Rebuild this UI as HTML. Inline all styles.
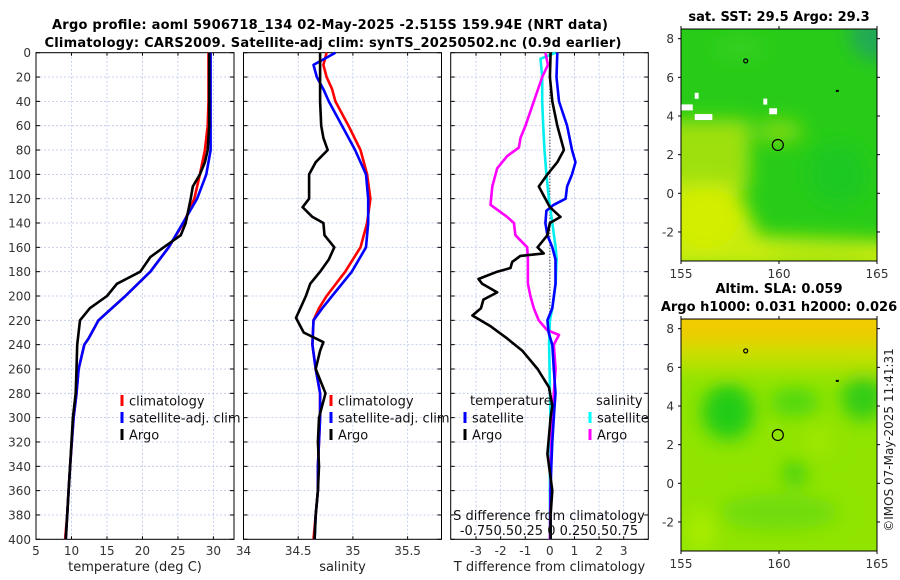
<!DOCTYPE html>
<html><head><meta charset="utf-8"><style>
html,body{margin:0;padding:0;background:#fff;}
svg{display:block;font-family:"DejaVu Sans","Liberation Sans",sans-serif;}
</style></head><body>
<svg id="fig" width="900" height="580" viewBox="0 0 900 580" xmlns="http://www.w3.org/2000/svg">
<text x="330" y="29" font-size="13" font-weight="bold" text-anchor="middle" textLength="556">Argo profile: aoml 5906718_134 02-May-2025 -2.515S 159.94E (NRT data)</text>
<text x="333" y="47" font-size="13" font-weight="bold" text-anchor="middle" textLength="577">Climatology: CARS2009. Satellite-adj clim: synTS_20250502.nc (0.9d earlier)</text>
<g id="maps"></g>
<g id="panels"></g>
<text transform="translate(893,440) rotate(-90)" font-size="12" text-anchor="middle" fill="#222">©IMOS 07-May-2025 11:41:31</text>
</svg>
<script>
// depths (m)
const depthsT = [0,20,40,60,80,90,100,110,120,140,150,160,168,180,190,200,210,220,235,240,260,280,300,320,340,360,380,400];
const tempArgo = [29.4,29.4,29.4,29.4,29.2,28.8,28.1,27.1,26.8,26.1,25.4,23.0,21.1,19.7,16.4,15.0,12.6,11.2,10.9,10.8,10.7,10.6,10.2,10.0,9.8,9.6,9.4,9.2];
const depthsC = [0,20,40,60,80,100,120,140,160,180,200,220,235,240,260,280,300,320,340,360,380,400];
const tempClim = [29.3,29.3,29.3,29.2,28.8,28.1,27.3,25.8,23.7,21.1,17.6,13.8,12.4,11.8,11.0,10.7,10.3,10.05,9.8,9.6,9.4,9.1];
const tempSat  = [29.6,29.6,29.6,29.6,29.6,29.0,27.7,25.7,23.7,21.1,17.6,13.8,12.4,11.8,11.0,10.7,10.3,10.05,9.8,9.6,9.4,9.2];
const depthsS = [0,10,20,30,40,60,80,100,120,140,160,180,200,210,220,240,260,280,300,320,340,360,380,400];
const salClim = [34.76,34.73,34.76,34.81,34.84,34.96,35.07,35.13,35.16,35.13,35.07,34.93,34.76,34.69,34.64,34.63,34.66,34.70,34.70,34.69,34.68,34.68,34.66,34.64];
const salSat  = [34.84,34.64,34.67,34.73,34.78,34.90,35.02,35.12,35.14,35.14,35.12,34.99,34.81,34.72,34.64,34.63,34.66,34.70,34.70,34.69,34.68,34.68,34.66,34.65];
const depthsSA = [0,20,40,60,70,80,90,100,120,127,135,140,150,160,170,180,190,200,210,218,230,238,245,260,280,300,320,340,360,380,400];
const salArgo = [34.70,34.70,34.70,34.71,34.73,34.77,34.66,34.60,34.60,34.54,34.63,34.73,34.74,34.83,34.78,34.70,34.61,34.57,34.52,34.48,34.55,34.73,34.70,34.66,34.75,34.69,34.68,34.69,34.68,34.66,34.65];
// difference panel
const depthsD = [0,20,40,60,80,90,100,110,120,127,135,140,150,160,165,167,172,177,180,186,190,197,203,210,216,225,235,245,260,275,290,300,330,360,380,400];
const dTArgo = [0.03,0,0.1,0.3,0.57,0.3,-0.1,-0.45,-0.18,0,0.43,0,-0.1,-0.5,-0.25,-1.2,-1.53,-1.6,-2.14,-2.9,-2.75,-2.14,-2.7,-2.8,-3.15,-2.4,-1.73,-1.12,-0.5,-0.04,0.1,0.03,-0.1,0.1,0.03,0.03];
const depthsDS = [0,20,40,60,80,90,100,110,120,125,130,140,150,160,170,190,210,220,230,240,260,280,300,320,340,360,400];
const dTSat = [0.3,0.27,0.37,0.7,0.9,1.04,0.9,0.7,0.64,0.16,-0.14,-0.18,-0.1,0.1,0.23,0.23,0.1,-0.1,-0.05,0.1,0.16,0.23,0.16,0.1,0.06,0.03,0.03];
const depthsDA = [0,10,20,40,60,70,78,85,95,110,125,135,140,150,160,170,190,200,210,220,228,232,240,260,280,300,330,360,400];
const dSArgo = [-0.045,-0.02,-0.078,-0.163,-0.248,-0.298,-0.315,-0.433,-0.535,-0.585,-0.603,-0.433,-0.365,-0.35,-0.23,-0.223,-0.223,-0.198,-0.163,-0.113,-0.028,0.093,0.04,0.058,0.04,0.025,0.01,0.005,0];
const depthsDC = [0,5,20,40,60,80,100,120,140,160,170,190,210,220,240,260,300,340,400];
const dSSat = [0.058,-0.095,-0.078,-0.078,-0.068,-0.055,-0.035,-0.01,0.025,0.058,0.068,0.058,0.025,0,-0.008,-0.003,0.005,0,0];
const depthTicks = [0,20,40,60,80,100,120,140,160,180,200,220,240,260,280,300,320,340,360,380,400];
const tempTicks = [5,10,15,20,25,30];
const salTicks = [34,34.5,35,35.5];
const diffTicks = [-3,-2,-1,0,1,2,3];

const NS='http://www.w3.org/2000/svg';
function el(tag, attrs, parent, text){const e=document.createElementNS(NS,tag);for(const k in attrs)e.setAttribute(k,attrs[k]);if(text!==undefined)e.textContent=text;parent.appendChild(e);return e;}
const panels=document.getElementById('panels');
const Y0=52.7, Y1=539.3;
const yD = d => Y0 + d*(Y1-Y0)/400;

function makePanel(name, L, R, dmin, dmax, ticks, labels, xlabel, showY){
  const g=el('g',{},panels);
  
  
  const x = v => L + (v-dmin)*(R-L)/(dmax-dmin);
  ticks.forEach(t=>{ const l=el('line',{x1:x(t),x2:x(t),y1:Y0,y2:Y1,stroke:'#b8c4ec','stroke-width':0.8,'stroke-dasharray':'2,2'},g);
     
    el('line',{x1:x(t),x2:x(t),y1:Y0,y2:Y0+3,stroke:'#000'},g); el('line',{x1:x(t),x2:x(t),y1:Y1,y2:Y1-3,stroke:'#000'},g);});
  labels.forEach((s,i)=>{ const t=el('text',{x:x(ticks[i]),y:555,'font-size':12,'text-anchor':'middle',fill:'#333'},g,s);
     });
  depthTicks.forEach(d=>{ el('line',{x1:L,x2:R,y1:yD(d),y2:yD(d),stroke:'#b8c4ec','stroke-width':0.8,'stroke-dasharray':'2,2'},g);
    el('line',{x1:L,x2:L+4,y1:yD(d),y2:yD(d),stroke:'#000'},g); el('line',{x1:R,x2:R-4,y1:yD(d),y2:yD(d),stroke:'#000'},g);
    if(showY){const t=el('text',{x:L-5,y:yD(d)+4.5,'font-size':12,'text-anchor':'end',fill:'#333'},g,String(d));
       }});
  const fr=el('rect',{x:L,y:Y0,width:R-L,height:Y1-Y0,fill:'none',stroke:'#000','stroke-width':1},g);
   
  const xl=el('text',{x:(L+R)/2,y:571,'font-size':13,'text-anchor':'middle',fill:'#222'},g,xlabel);
   
  return {g,x};
}
function line(p, xs, ds, color, name, w){
  const pts=xs.map((v,i)=>p.x(v).toFixed(1)+','+yD(ds[i]).toFixed(1)).join(' ');
  const pl=el('polyline',{points:pts,fill:'none',stroke:color,'stroke-width':w||2.6,'stroke-linejoin':'round'},p.g);
  
  
}
function legend(g, x, y, color, label, name){
  el('rect',{x:x-1.5,y:y-6,width:3,height:11,fill:color},g);
  const t=el('text',{x:x+7,y:y+4.5,'font-size':13,fill:'#111'},g,label);
  
  
}

const p1=makePanel('temperature-panel',36,234,5,32.9,tempTicks,tempTicks.map(String),'temperature (deg C)',true);
line(p1,tempClim,depthsC,'#ff0000','temp-climatology-line');
line(p1,tempSat,depthsC,'#0000ff','temp-satellite-line');
line(p1,tempArgo,depthsT,'#000','temp-argo-line');
legend(p1.g,122,401,'#f00','climatology','legend-climatology');
legend(p1.g,122,418,'#00f','satellite-adj. clim','legend-satellite');
legend(p1.g,122,435,'#000','Argo','legend-argo');

const p2=makePanel('salinity-panel',243.5,441.5,34,35.81,salTicks,['34','34.5','35','35.5'],'salinity',false);
line(p2,salClim,depthsS,'#ff0000','sal-climatology-line');
line(p2,salSat,depthsS,'#0000ff','sal-satellite-line');
line(p2,salArgo,depthsSA,'#000','sal-argo-line');
legend(p2.g,331,401,'#f00','climatology','legend-climatology');
legend(p2.g,331,418,'#00f','satellite-adj. clim','legend-satellite');
legend(p2.g,331,435,'#000','Argo','legend-argo');

const p3=makePanel('difference-panel',450.7,648.3,-4.03,4.0,diffTicks,diffTicks.map(String),'T difference from climatology',false);
el('line',{x1:p3.x(0),x2:p3.x(0),y1:Y0,y2:Y1,stroke:'#000','stroke-width':1,'stroke-dasharray':'1,2'},p3.g);
line(p3,dSSat.map(v=>v*4),depthsDC,'#00eeee','sal-diff-satellite-line');
line(p3,dSArgo.map(v=>v*4),depthsDA,'#ff00ff','sal-diff-argo-line');
line(p3,dTSat,depthsDS,'#0000ff','temp-diff-satellite-line');
line(p3,dTArgo,depthsD,'#000','temp-diff-argo-line');
let t=el('text',{x:470,y:405,'font-size':13,fill:'#111'},p3.g,'temperature');  
t=el('text',{x:596,y:405,'font-size':13,fill:'#111'},p3.g,'salinity');  
legend(p3.g,465,418,'#00f','satellite','legend-temp-satellite');
legend(p3.g,465,435,'#000','Argo','legend-temp-argo');
legend(p3.g,590,418,'#0ff','satellite','legend-sal-satellite');
legend(p3.g,590,435,'#f0f','Argo','legend-sal-argo');
t=el('text',{x:549,y:520,'font-size':13,'text-anchor':'middle',fill:'#111'},p3.g,'S difference from climatology');  
t=el('text',{x:549,y:535,'font-size':13,'text-anchor':'middle',fill:'#111'},p3.g,'-0.750.50.25 0 0.250.50.75');  

// maps
const maps=document.getElementById('maps');
const lonTicks=[155,160,165], latTicks=[8,6,4,2,0,-2];
function makeMap(name, top, title, draw){
  const L=681,R=877,B=top+232;
  const g=el('g',{},maps);
  
  
  const mx=lon=>L+(lon-155)*19.6, my=lat=>top+(8.5-lat)*19.33;
  const cid='clip'+top;
  const cp=el('clipPath',{id:cid},g); el('rect',{x:L,y:top,width:R-L,height:B-top},cp);
  const inner=el('g',{'clip-path':'url(#'+cid+')'},g);
  draw(inner,mx,my,L,R,top,B);
  el('circle',{cx:mx(159.94),cy:my(2.5),r:5.5,fill:'none',stroke:'#000','stroke-width':1.2},g);
  el('circle',{cx:mx(158.3),cy:my(6.85),r:2,fill:'none',stroke:'#000','stroke-width':1.2},g);
  el('rect',{x:mx(162.9),y:my(5.35),width:3,height:2,fill:'#000'},g);
  el('rect',{x:L,y:top,width:R-L,height:B-top,fill:'none',stroke:'#000'},g);
  lonTicks.forEach(v=>{el('line',{x1:mx(v),x2:mx(v),y1:B,y2:B+3,stroke:'#000'},g);el('line',{x1:mx(v),x2:mx(v),y1:top,y2:top-3,stroke:'#000'},g);
    const tx=el('text',{x:mx(v),y:B+17,'font-size':12,'text-anchor':'middle',fill:'#333'},g,String(v));  });
  latTicks.forEach(v=>{el('line',{x1:L-3,x2:L,y1:my(v),y2:my(v),stroke:'#000'},g);el('line',{x1:R,x2:R+3,y1:my(v),y2:my(v),stroke:'#000'},g);
    const tx=el('text',{x:L-7,y:my(v)+4.5,'font-size':12,'text-anchor':'end',fill:'#333'},g,String(v));  });
  title.forEach((s,i)=>{const tx=el('text',{x:779,y:top-8-(title.length-1-i)*18,'font-size':13,'font-weight':'bold','text-anchor':'middle'},g,s);
     });
}
const defs=el('defs',{},document.getElementById('fig'));
const f=el('filter',{id:'blur',x:'-50%',y:'-50%',width:'200%',height:'200%'},defs); el('feGaussianBlur',{stdDeviation:9},f);
makeMap('sst-map',29,['sat. SST: 29.5 Argo: 29.3'],(g,mx,my,L,R,T,B)=>{
  el('rect',{x:L,y:T,width:R-L,height:B-T,fill:'#28cc18'},g);
  const b=el('g',{filter:'url(#blur)'},g);
  el('ellipse',{cx:mx(165),cy:my(8.3),rx:28,ry:28,fill:'#22aa55'},b);
  el('rect',{x:L-20,y:my(3.8),width:mx(158.5)-L+20,height:70,fill:'#9ee010'},b);
  el('ellipse',{cx:mx(160),cy:my(3.2),rx:24,ry:12,fill:'#7ada10'},b);
  el('polygon',{points:[mx(154),my(0.5),mx(157.8),my(0.5),mx(159),my(-2.2),mx(166),my(-2.5),mx(166),my(-4),mx(154),my(-4)].join(' '),fill:'#c8ec08'},b);
  el('ellipse',{cx:mx(156.3),cy:my(-1.3),rx:32,ry:30,fill:'#d4ee00'},b);
  el('ellipse',{cx:mx(162),cy:my(-3.3),rx:50,ry:8,fill:'#b0e608'},b);
  el('ellipse',{cx:mx(158),cy:my(7.5),rx:25,ry:10,fill:'#38d020'},b);
  el('ellipse',{cx:mx(163),cy:my(1),rx:30,ry:30,fill:'#1ec820'},b);
  [[155,4.6,0.6],[155.7,4.1,0.9],[155.7,5.2,0.2],[159.2,4.9,0.2],[159.5,4.4,0.4]].forEach(a=>el('rect',{x:mx(a[0]),y:my(a[1]),width:a[2]*19.6,height:6,fill:'#fff'},g));
});
makeMap('sla-map',319,['Altim. SLA: 0.059','Argo h1000: 0.031 h2000: 0.026'],(g,mx,my,L,R,T,B)=>{
  el('rect',{x:L,y:T,width:R-L,height:B-T,fill:'#90e400'},g);
  const b=el('g',{filter:'url(#blur)'},g);
  el('rect',{x:L-20,y:T-20,width:R-L+40,height:50,fill:'#f0cc00'},b);
  el('rect',{x:L-20,y:T+25,width:R-L+40,height:25,fill:'#c4e000'},b);
  el('ellipse',{cx:mx(157.4),cy:my(3.7),rx:26,ry:28,fill:'#22cc18'},b);
  el('ellipse',{cx:mx(164.3),cy:my(4.4),rx:22,ry:22,fill:'#33cc18'},b);
  el('ellipse',{cx:mx(160.8),cy:my(4.2),rx:25,ry:14,fill:'#50d810'},b);
  el('ellipse',{cx:mx(160.8),cy:my(0.5),rx:12,ry:12,fill:'#40d010'},b);
  el('ellipse',{cx:mx(160),cy:my(-1.5),rx:60,ry:18,fill:'#70dc08'},b);
  el('ellipse',{cx:mx(156),cy:my(-2.5),rx:15,ry:22,fill:'#a8ec00'},b);
  el('ellipse',{cx:mx(162),cy:my(2.2),rx:14,ry:14,fill:'#a0e800'},b);
});
</script>
</body></html>
